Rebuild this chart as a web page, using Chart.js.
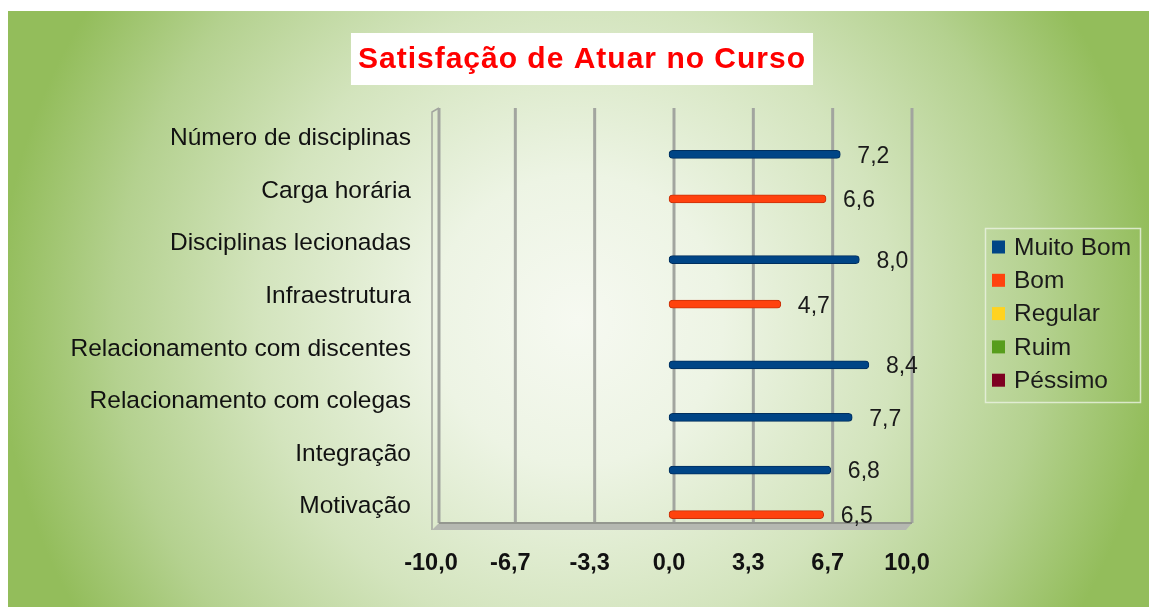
<!DOCTYPE html>
<html>
<head>
<meta charset="utf-8">
<script src="https://cdn.jsdelivr.net/npm/chart.js@4.4.1/dist/chart.umd.min.js"></script>
<style>
html, body { margin: 0; padding: 0; background: #fff; }
#wrap { width: 1149px; height: 607px; position: relative; }
</style>
</head>
<body>
<div id="wrap"><canvas id="myChart" width="1149" height="607"></canvas></div>
<script>
// chart data
const titleText = "Satisfação de Atuar no Curso";
const categories = ["Número de disciplinas", "Carga horária", "Disciplinas lecionadas", "Infraestrutura",
  "Relacionamento com discentes", "Relacionamento com colegas", "Integração", "Motivação"];
const muitoBom = [7.2, null, 8.0, null, 8.4, 7.7, 6.8, null];
const bom      = [null, 6.6, null, 4.7, null, null, null, 6.5];
const regular  = [null, null, null, null, null, null, null, null];
const ruim     = [null, null, null, null, null, null, null, null];
const pessimo  = [null, null, null, null, null, null, null, null];
const seriesNames = ["Muito Bom", "Bom", "Regular", "Ruim", "Péssimo"];
const seriesColors = ["#004586", "#ff420e", "#ffd320", "#579d1c", "#7e0021"];
const seriesBorders = ["#002f5e", "#c8320a", "#d9ad10", "#3f7512", "#55001a"];
const xTickLabels = ["-10,0", "-6,7", "-3,3", "0,0", "3,3", "6,7", "10,0"];

const seriesData = [muitoBom, bom, regular, ruim, pessimo];

// last series first so "Muito Bom" ends at the bottom of each group
const datasets = [];
for (let i = seriesNames.length - 1; i >= 0; i--) {
  datasets.push({
    label: seriesNames[i],
    data: seriesData[i],
    backgroundColor: seriesColors[i],
    borderColor: seriesBorders[i],
    borderWidth: 1,
    borderRadius: 4,
    borderSkipped: false,
    barThickness: 8
  });
}

const backgroundPlugin = {
  id: "background",
  beforeDraw(chart) {
    const ctx = chart.ctx;
    ctx.save();
    ctx.fillStyle = "#ffffff";
    ctx.fillRect(0, 0, chart.width, chart.height);
    const g = ctx.createRadialGradient(578, 320, 0, 578, 320, 580);
    g.addColorStop(0, "#f6f9f1");
    g.addColorStop(0.25, "#edf4e4");
    g.addColorStop(0.55, "#d3e4bd");
    g.addColorStop(0.8, "#b4d18f");
    g.addColorStop(1, "#93bd5b");
    ctx.fillStyle = g;
    ctx.fillRect(8, 11, chart.width - 8, chart.height - 11);

    // title box
    ctx.font = "bold 30px 'Liberation Sans', Arial, sans-serif";
    ctx.letterSpacing = "1px";
    const w = ctx.measureText(titleText).width;
    ctx.fillStyle = "#ffffff";
    ctx.fillRect(582 - w / 2 - 7, 33, w + 14, 52);
    ctx.fillStyle = "#ff0000";
    ctx.textAlign = "center";
    ctx.textBaseline = "middle";
    ctx.fillText(titleText, 582, 60);
    ctx.restore();
  }
};

const wallPlugin = {
  id: "walls",
  beforeDatasetsDraw(chart) {
    const ctx = chart.ctx;
    const xs = chart.scales.x;
    const area = chart.chartArea;
    const top = 108, floorY = 523;
    ctx.save();
    ctx.strokeStyle = "#a2a59f";
    ctx.lineWidth = 3;
    xs.ticks.forEach((t, i) => {
      if (i === 0) return;
      const x = xs.getPixelForValue(t.value) + 5;
      ctx.beginPath();
      ctx.moveTo(x, top);
      ctx.lineTo(x, floorY);
      ctx.stroke();
    });
    // left wall
    const lx = area.left;
    ctx.lineWidth = 3;
    ctx.beginPath();
    ctx.moveTo(lx + 8, top);
    ctx.lineTo(lx + 8, floorY);
    ctx.stroke();
    ctx.lineWidth = 1.5;
    ctx.beginPath();
    ctx.moveTo(lx + 8, top);
    ctx.lineTo(lx + 1, top + 4);
    ctx.lineTo(lx + 1, floorY + 7);
    ctx.stroke();
    // floor
    const rx = xs.getPixelForValue(10) + 5;
    ctx.fillStyle = "#b5b8b1";
    ctx.beginPath();
    ctx.moveTo(lx + 8, floorY);
    ctx.lineTo(rx, floorY);
    ctx.lineTo(rx - 6, floorY + 7);
    ctx.lineTo(lx + 1, floorY + 7);
    ctx.closePath();
    ctx.fill();
    ctx.strokeStyle = "#94978f";
    ctx.lineWidth = 2;
    ctx.beginPath();
    ctx.moveTo(lx + 8, floorY);
    ctx.lineTo(rx, floorY);
    ctx.stroke();
    ctx.restore();
  }
};

const labelPlugin = {
  id: "valueLabels",
  afterDatasetsDraw(chart) {
    const ctx = chart.ctx;
    ctx.save();
    ctx.font = "23px 'Liberation Sans', Arial, sans-serif";
    ctx.fillStyle = "#1a1a1a";
    ctx.textAlign = "left";
    ctx.textBaseline = "middle";
    chart.data.datasets.forEach((ds, di) => {
      const meta = chart.getDatasetMeta(di);
      meta.data.forEach((bar, i) => {
        const v = ds.data[i];
        if (v === null) return;
        ctx.fillText(v.toFixed(1).replace(".", ","), bar.x + 17, bar.y + 2);
      });
    });
    ctx.restore();
  }
};

const legendPlugin = {
  id: "sideLegend",
  afterDraw(chart) {
    const ctx = chart.ctx;
    ctx.save();
    ctx.strokeStyle = "rgba(235,243,226,0.8)";
    ctx.lineWidth = 1.5;
    ctx.strokeRect(985.5, 228.5, 155, 174);
    ctx.font = "24.5px 'Liberation Sans', Arial, sans-serif";
    ctx.textAlign = "left";
    ctx.textBaseline = "middle";
    seriesNames.forEach((name, i) => {
      const y = 247 + i * 33.3;
      ctx.fillStyle = seriesColors[i];
      ctx.fillRect(992, y - 6.5, 13, 13);
      ctx.fillStyle = "#1a1a1a";
      ctx.fillText(name, 1014, y + 1);
    });
    ctx.restore();
  }
};

const canvas = document.getElementById("myChart");
const myChart = new Chart(canvas.getContext("2d"), {
  type: "bar",
  data: { labels: categories, datasets: datasets },
  plugins: [backgroundPlugin, wallPlugin, labelPlugin, legendPlugin],
  options: {
    responsive: false,
    animation: false,
    devicePixelRatio: 1,
    indexAxis: "y",
    layout: { padding: { left: 8, right: 242, top: 112, bottom: 0 } },
    plugins: {
      legend: { display: false },
      title: { display: false },
      tooltip: { enabled: false }
    },
    scales: {
      x: {
        min: -10,
        max: 10,
        afterBuildTicks(scale) {
          scale.ticks = xTickLabels.map((_, i) => ({ value: -10 + i * 20 / (xTickLabels.length - 1) }));
        },
        afterFit(scale) { scale.height = 74; },
        grid: { display: false, drawTicks: false },
        border: { display: false },
        ticks: {
          autoSkip: false,
          maxRotation: 0,
          padding: 16,
          color: "#111",
          font: { family: "'Liberation Sans', Arial, sans-serif", size: 23.5, weight: "bold" },
          callback: (value, index) => xTickLabels[index]
        }
      },
      y: {
        afterFit(scale) { scale.width = 423; },
        grid: { display: false, drawTicks: false },
        border: { display: false },
        ticks: {
          autoSkip: false,
          padding: 20,
          color: "#111",
          font: { family: "'Liberation Sans', Arial, sans-serif", size: 24.5 }
        }
      }
    }
  }
});
</script>
</body>
</html>
